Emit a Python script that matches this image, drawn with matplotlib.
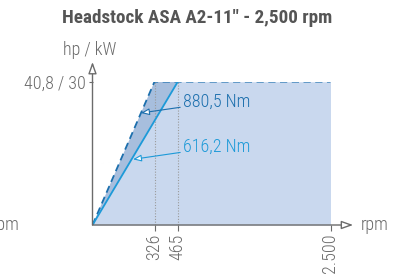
import numpy as np
import matplotlib
matplotlib.use('Agg')
import matplotlib.pyplot as plt

plt.rcParams['font.family'] = ['Roboto Condensed', 'DejaVu Sans']
plt.rcParams['font.weight'] = 'light'

# power curve (kW) against spindle speed (rpm)
rpm_dashed = [0, 326, 2500]
kw_dashed = [0, 30, 30]
rpm_solid = [0, 465]
kw_solid = [0, 30]
rpm_ticks = [326, 465, 2500]
rpm_tick_labels = ['326', '465', '2.500']
kw_max = 30
torque_labels = ['880,5 Nm', '616,2 Nm']

# the drawing is schematic: piecewise scale on the rpm axis
brk_rpm = [0, 326, 465, 2500]
brk_pos = [0, 62, 85.3, 238]

def fwd(x):
    return np.interp(x, brk_rpm, brk_pos)

def inv(p):
    return np.interp(p, brk_pos, brk_rpm)

gray = '#6b6b6b'
dark = '#1c6fad'
light = '#1d9ad8'
fs = 13

fig = plt.figure(figsize=(4.01, 2.76), dpi=100)
ax = fig.add_axes([92.5 / 401, 51 / 276, 238 / 401, 143.3 / 276])
ax.set_xscale('function', functions=(fwd, inv))
ax.set_xlim(0, 2500)
ax.set_ylim(0, kw_max)

ax.fill_between(rpm_dashed, kw_dashed, color='#c9d8ee', lw=0)
ax.fill([0, 326, 465], [0, 30, 30], color='#a7bedd', lw=0)
ax.vlines([326, 465], 0, kw_max, colors='#9a9a9a', linestyles=(0, (1, 1.5)), lw=0.8)
ax.plot(rpm_dashed, kw_dashed, color=dark, lw=1.3, ls=(0, (4, 2.5)))
ax.plot(rpm_solid, kw_solid, color=light, lw=1.3)

arr = dict(arrowstyle='-|>,head_length=0.5,head_width=0.2', fc='white', lw=0.8,
           shrinkA=0, shrinkB=0, mutation_scale=10)
ax.annotate(torque_labels[0], xy=(255, 23.45), xytext=(534, 25.75),
            color=dark, fontsize=fs, va='center', ha='left',
            arrowprops=dict(arr, ec=dark))
ax.annotate(torque_labels[1], xy=(213, 13.75), xytext=(534, 16.3),
            color=light, fontsize=fs, va='center', ha='left',
            arrowprops=dict(arr, ec=light))

for s in ax.spines.values():
    s.set_visible(False)
axarr = dict(arrowstyle='-|>,head_length=0.7,head_width=0.25', fc='white', ec=gray,
             lw=1, shrinkA=0, shrinkB=0, mutation_scale=10)
ax.annotate('', xy=(1.095, 0), xytext=(0, 0), xycoords='axes fraction',
            arrowprops=axarr, annotation_clip=False)
ax.annotate('', xy=(0, 1.1375), xytext=(0, 0), xycoords='axes fraction',
            arrowprops=axarr, annotation_clip=False)

ax.set_xticks(rpm_ticks)
ax.set_xticklabels(rpm_tick_labels, rotation=90)
ax.set_xticks([], minor=True)
ax.set_yticks([kw_max])
ax.set_yticklabels(['40,8 / 30'])
ax.tick_params(axis='x', length=4, width=0.8, color=gray, labelcolor=gray, labelsize=fs, pad=2)
ax.tick_params(axis='y', length=3, width=0.8, color=gray, labelcolor=gray, labelsize=fs, pad=2)

fig.text(361 / 401, 1 - 225 / 276, 'rpm', color=gray, fontsize=fs, ha='left', va='center')
fig.text(19.5 / 401, 1 - 225 / 276, 'rpm', color=gray, fontsize=fs, ha='right', va='center')
fig.text(90 / 401, 1 - 50 / 276, 'hp / kW', color=gray, fontsize=fs, ha='center', va='center')
fig.text(197 / 401, 1 - 18 / 276, 'Headstock ASA A2-11" - 2,500 rpm', color='#555555',
         fontsize=13.8, fontweight='bold', ha='center', va='center')

fig.savefig('out.png', dpi=100)
